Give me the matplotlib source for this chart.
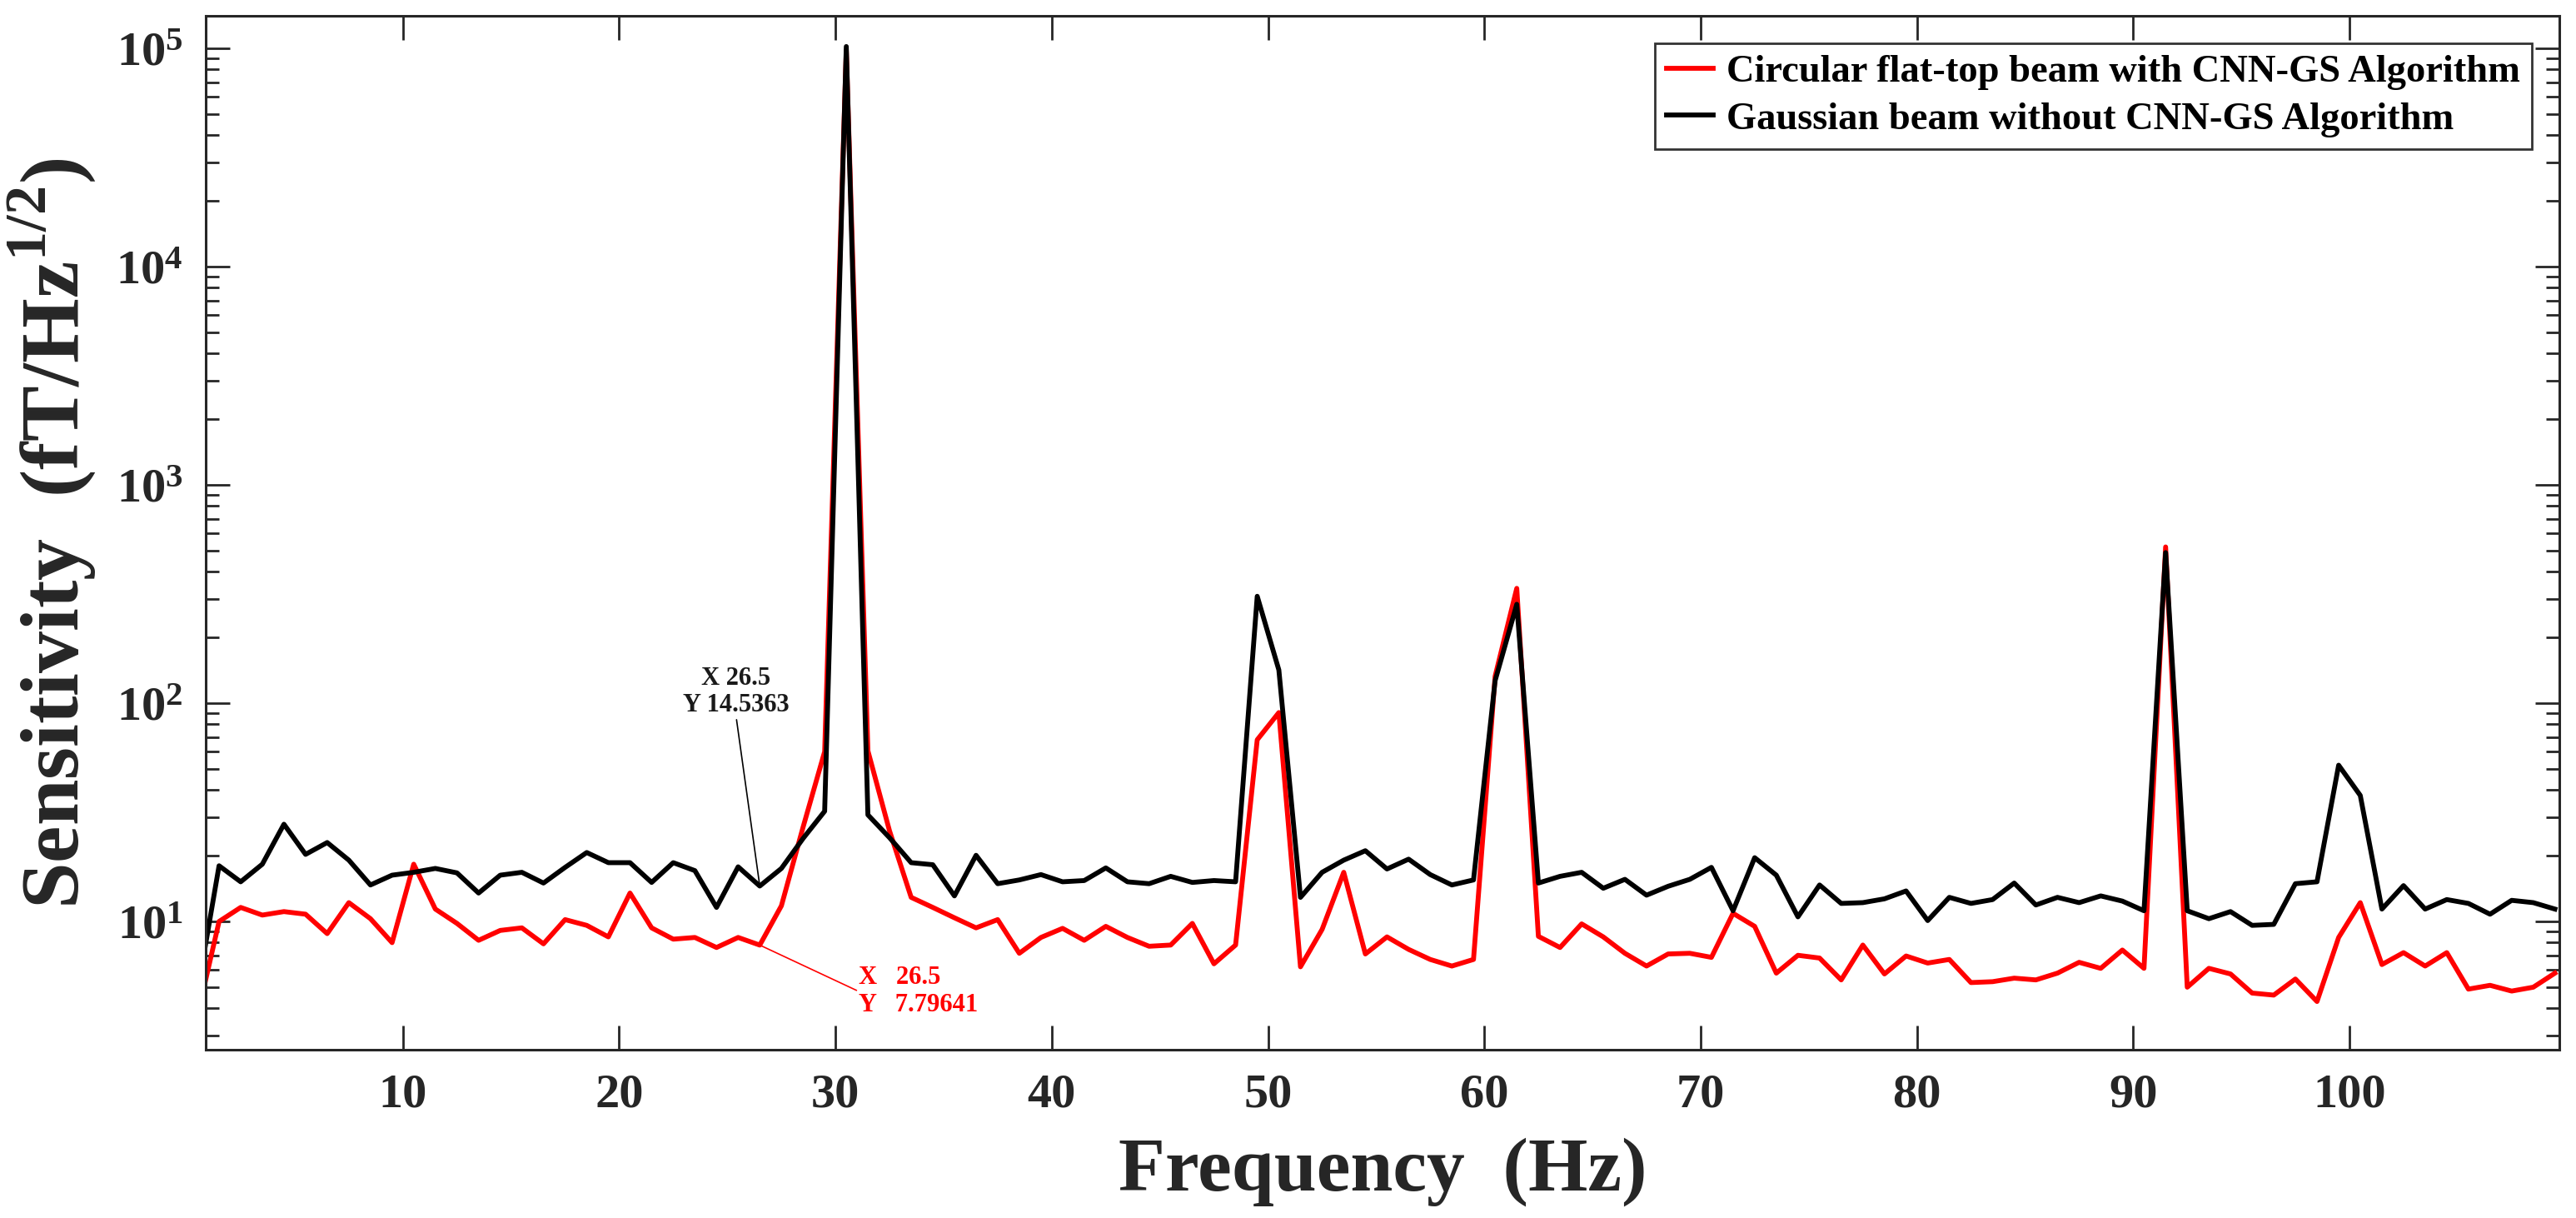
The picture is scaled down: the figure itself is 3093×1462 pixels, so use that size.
import numpy as np
import matplotlib
matplotlib.use("Agg")
import matplotlib.pyplot as plt
from matplotlib.ticker import LogLocator, NullFormatter, FixedLocator

plt.rcParams['font.family'] = ['Liberation Serif', 'DejaVu Serif']
plt.rcParams['font.weight'] = 'bold'
plt.rcParams['mathtext.fontset'] = 'custom'
plt.rcParams['mathtext.rm'] = 'Liberation Serif'
plt.rcParams['mathtext.bf'] = 'Liberation Serif:bold'

# frequency bins (Hz)
freqs = np.arange(0.5, 110.0, 1.0)

# Circular flat-top beam with CNN-GS
flat_top = [3.7, 10.0, 11.6, 10.7, 11.1, 10.8, 8.8, 12.2, 10.3, 8.0,
            18.3, 11.4, 9.8, 8.2, 9.1, 9.35, 7.9, 10.2, 9.6, 8.5,
            13.5, 9.35, 8.3, 8.45, 7.6, 8.45, 7.79641, 11.8, 27, 60,
            98000, 60.5, 26, 12.9, 11.6, 10.4, 9.35, 10.2, 7.15, 8.45,
            9.3, 8.2, 9.5, 8.45, 7.7, 7.8, 9.8, 6.4, 7.8, 68,
            90.6, 6.2, 9.2, 16.8, 7.1, 8.5, 7.45, 6.7, 6.25, 6.7,
            133, 336, 8.55, 7.6, 9.75, 8.5, 7.15, 6.25, 7.1, 7.15,
            6.85, 10.9, 9.5, 5.8, 7.0, 6.8, 5.4, 7.8, 5.75, 6.95,
            6.45, 6.7, 5.25, 5.3, 5.5, 5.4, 5.8, 6.5, 6.1, 7.4,
            6.1, 520, 5.0, 6.1, 5.75, 4.7, 4.6, 5.45, 4.3, 8.45,
            12.2, 6.35, 7.2, 6.25, 7.2, 4.9, 5.1, 4.8, 5.0, 5.8]

# Gaussian beam without CNN-GS
gaussian = [4.75, 18.0, 15.2, 18.3, 27.9, 20.3, 23.0, 19.1, 14.7, 16.3,
            16.8, 17.5, 16.7, 13.5, 16.3, 16.8, 15.0, 17.7, 20.7, 18.6,
            18.6, 15.1, 18.6, 17.1, 11.6, 17.8, 14.5363, 17.5, 24, 32,
            102000, 30.8, 24.2, 18.6, 18.2, 13.1, 20.1, 14.9, 15.5, 16.4,
            15.2, 15.4, 17.6, 15.2, 14.9, 16.1, 15.1, 15.4, 15.2, 309,
            142, 12.9, 16.8, 19.1, 21.1, 17.4, 19.3, 16.4, 14.7, 15.5,
            127, 284, 15.0, 16.1, 16.8, 14.2, 15.6, 13.2, 14.5, 15.6,
            17.7, 11.2, 19.6, 16.3, 10.5, 14.7, 12.1, 12.2, 12.7, 13.8,
            10.1, 12.9, 12.1, 12.6, 15.0, 11.9, 12.9, 12.2, 13.1, 12.4,
            11.2, 490, 11.2, 10.3, 11.1, 9.6, 9.7, 14.9, 15.2, 52,
            37.8, 11.4, 14.6, 11.4, 12.6, 12.1, 10.8, 12.5, 12.2, 11.4]

x_ticks = [10, 20, 30, 40, 50, 60, 70, 80, 90, 100]
tip_x = 26.5
tip_black = 14.5363
tip_red = 7.79641

axis_col = '#262626'

fig = plt.figure(figsize=(30.93, 14.62), dpi=100)
ax = fig.add_axes([0.08, 0.138, 0.9135, 0.849])

ax.plot(freqs, flat_top, color='#ff0000', lw=4.2,
        label='Circular flat-top beam with CNN-GS Algorithm')
ax.plot(freqs, gaussian, color='black', lw=4.2,
        label='Gaussian beam without CNN-GS Algorithm')

ax.set_yscale('log')
ax.set_xlim(0.9, 109.7)
ax.set_ylim(2.58, 1.41e5)

ax.xaxis.set_major_locator(FixedLocator(x_ticks))
ax.yaxis.set_minor_locator(LogLocator(base=10, subs=np.arange(2, 10), numticks=20))
ax.yaxis.set_minor_formatter(NullFormatter())
ax.set_yticks([1e1, 1e2, 1e3, 1e4, 1e5])
ax.set_yticklabels([r'$\mathbf{10^{%d}}$' % k for k in range(1, 6)])

ax.tick_params(which='both', direction='in', top=True, right=True,
               colors=axis_col, labelsize=42, width=2)
ax.tick_params(which='major', length=21, pad=20)
ax.tick_params(which='minor', length=11.5)
ax.tick_params(axis='x', which='minor', length=0)
for s in ax.spines.values():
    s.set_linewidth(2.2)
    s.set_color(axis_col)

ax.set_xlabel('Frequency  (Hz)', fontsize=66, fontweight='bold',
              color=axis_col, labelpad=18)
ax.set_ylabel(r'Sensitivity  (fT/Hz$^{\mathregular{1/2}}$)', fontsize=72,
              fontweight='bold', color=axis_col, labelpad=16)

leg = ax.legend(loc='upper right', fontsize=33.5, frameon=True, fancybox=False,
                edgecolor='black', handlelength=1.2, handletextpad=0.35,
                labelspacing=0.3, borderpad=0.3, borderaxespad=0.7)
leg.get_frame().set_linewidth(2)

# data tips
ax.annotate('X 26.5\nY 14.5363', xy=(tip_x, tip_black),
            xytext=(0.2858, 0.411), textcoords='figure fraction',
            ha='center', va='bottom', fontsize=22, fontweight='bold',
            color='#1a1a1a', linespacing=1.15,
            arrowprops=dict(arrowstyle='-', color='black', lw=1.2,
                            shrinkA=0, shrinkB=0, relpos=(0.5, 0)))
ax.annotate('X   26.5\nY   7.79641', xy=(tip_x, tip_red),
            xytext=(0.3334, 0.186), textcoords='figure fraction',
            ha='left', va='center', fontsize=22, fontweight='bold',
            color='#ff0000', linespacing=1.15,
            arrowprops=dict(arrowstyle='-', color='#ff0000', lw=1.2,
                            shrinkA=0, shrinkB=0, relpos=(0, 0.5)))

fig.savefig('out.png', dpi=100)
